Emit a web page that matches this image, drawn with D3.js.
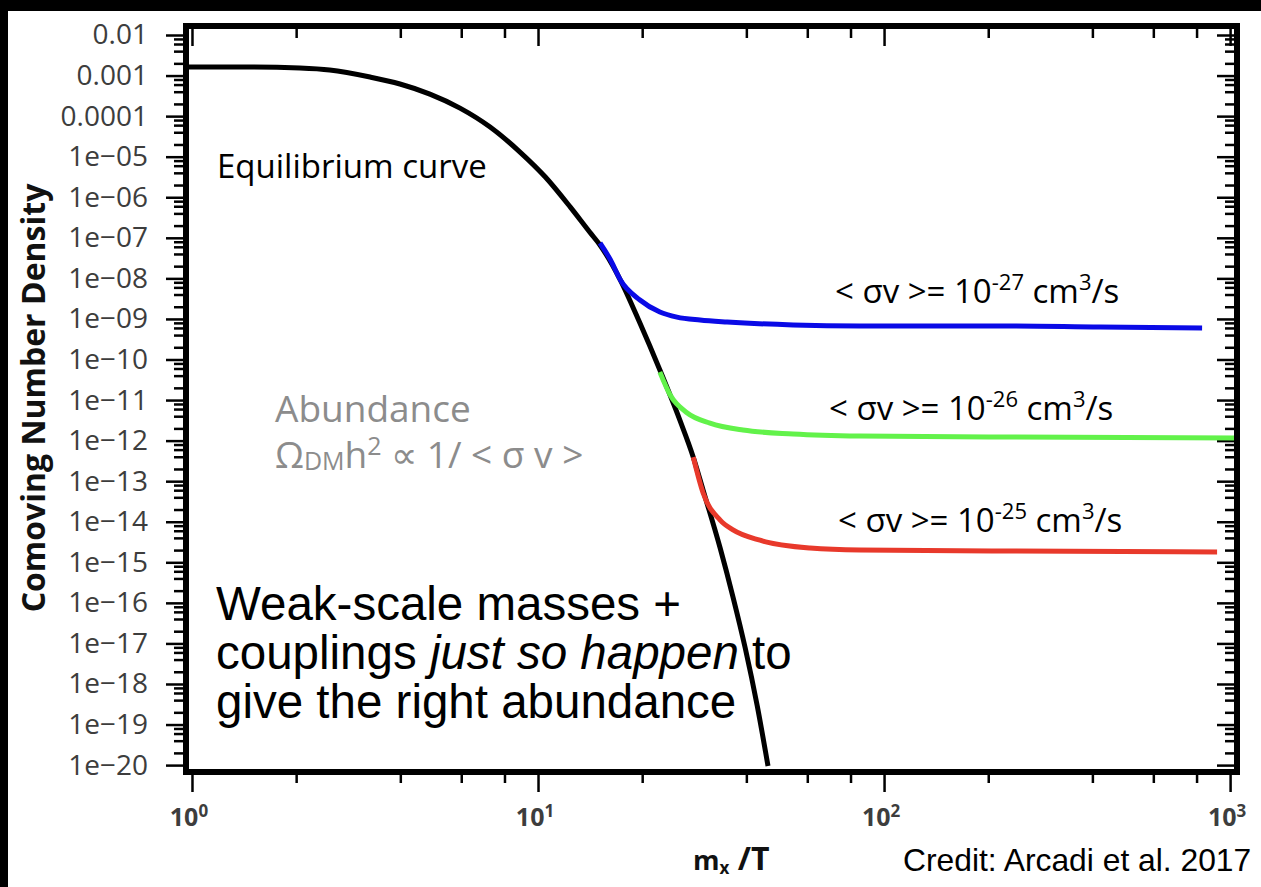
<!DOCTYPE html>
<html>
<head>
<meta charset="utf-8">
<script src="https://cdn.jsdelivr.net/npm/d3@7"></script>
<style>
body { margin: 0; background: #fff; }
text { font-family: "Open Sans", "Noto Sans", sans-serif; }
</style>
</head>
<body>
<svg id="chart" width="1261" height="887"></svg>
<script>
// values (x = m/T, y = comoving number density)
var eqX = [0.961, 1.47, 2.05, 2.5, 3.27, 3.99, 4.87, 5.95, 7.27, 8.87, 10.5, 12.4, 14.1, 15.1, 17.3, 19.7, 22.5, 25.7, 28.1, 30.0, 33.6, 36.6, 39.7, 43.0, 46.2];
var eqY = [1.62e-3, 1.62e-3, 1.53e-3, 1.37e-3, 9.2e-4, 6.2e-4, 3.5e-4, 1.58e-4, 5.4e-5, 1.3e-5, 3.15e-6, 5.7e-7, 1.39e-7, 6.65e-8, 9.1e-9, 7.9e-10, 5.5e-11, 3.2e-12, 3.9e-13, 6.0e-14, 2.25e-15, 1.39e-16, 7.7e-18, 2.9e-19, 9.5e-21];

var sv27X = [15.1, 16.2, 17.3, 19.7, 22.5, 25.2, 29.4, 35.2, 54.6, 85.2, 216, 421, 830];
var sv27Y = [7.45e-8, 2.84e-8, 9.1e-9, 2.93e-9, 1.48e-9, 1.11e-9, 9.4e-10, 8.4e-10, 7.1e-10, 6.7e-10, 6.7e-10, 6.3e-10, 6.0e-10];
var sv26X = [22.5, 24.1, 27.0, 31.4, 39.1, 54.6, 85.2, 216, 1047];
var sv26Y = [4.9e-11, 1.33e-11, 4.8e-12, 2.7e-12, 1.82e-12, 1.46e-12, 1.30e-12, 1.23e-12, 1.16e-12];
var sv25X = [28.1, 30.0, 33.6, 36.6, 43.8, 61.1, 85.2, 216, 917];
var sv25Y = [3.9e-13, 5.1e-14, 1.1e-14, 6.3e-15, 3.5e-15, 2.25e-15, 2.0e-15, 1.9e-15, 1.8e-15];

var svExp = ["-27", "-26", "-25"];

var xMajor = [1, 10, 100, 1000];
var xTickSup = ["0", "1", "2", "3"];
var yMajor = [1e-2, 1e-3, 1e-4, 1e-5, 1e-6, 1e-7, 1e-8, 1e-9, 1e-10, 1e-11, 1e-12, 1e-13, 1e-14, 1e-15, 1e-16, 1e-17, 1e-18, 1e-19, 1e-20];
var yTickLabels = ["0.01", "0.001", "0.0001", "1e\u221205", "1e\u221206", "1e\u221207", "1e\u221208", "1e\u221209", "1e\u221210",
    "1e\u221211", "1e\u221212", "1e\u221213", "1e\u221214", "1e\u221215", "1e\u221216", "1e\u221217", "1e\u221218", "1e\u221219", "1e\u221220"];

// plot frame
var plotL = 186, plotR = 1237, plotT = 26, plotB = 772;

var svg = d3.select("#chart");

// black band at top / left of the screenshot
svg.append("rect").attr("x", 0).attr("y", 0).attr("width", 1261).attr("height", 11).attr("fill", "#000");
svg.append("rect").attr("x", 0).attr("y", 0).attr("width", 8).attr("height", 887).attr("fill", "#000");

var x = d3.scaleLog().domain([0.961, 1047]).range([plotL, plotR]);
var y = d3.scaleLog().domain([Math.pow(10, -1.778), Math.pow(10, -20.17)]).range([plotT, plotB]);

// minor ticks at 2,4,6,8 of each decade
function minors(lo, hi) {
    var out = [];
    for (var e = lo; e < hi; e++) {
        [2, 4, 6, 8].forEach(function (m) { out.push(m * Math.pow(10, e)); });
    }
    return out;
}
var xMinor = minors(0, 3);
var yMinor = minors(-20, -2);

function styleAxis(g) {
    g.select(".domain").remove();
    g.selectAll(".tick line").attr("stroke", "#000").attr("stroke-width", 2.5);
}

// left
svg.append("g").attr("transform", "translate(" + plotL + ",0)")
    .call(d3.axisLeft(y).tickValues(yMinor).tickSize(12).tickFormat(""))
    .call(styleAxis);
svg.append("g").attr("transform", "translate(" + plotL + ",0)")
    .call(d3.axisLeft(y).tickValues(yMajor).tickSize(20).tickPadding(18)
        .tickFormat(function (d, i) { return yTickLabels[i]; }))
    .call(styleAxis)
    .selectAll("text")
    .style("font-size", "28px")
    .style("font-family", "'Open Sans', sans-serif")
    .attr("fill", "#3d3d3d");

// right (inward)
svg.append("g").attr("transform", "translate(" + plotR + ",0)")
    .call(d3.axisRight(y).tickValues(yMinor).tickSize(-12).tickFormat(""))
    .call(styleAxis);
svg.append("g").attr("transform", "translate(" + plotR + ",0)")
    .call(d3.axisRight(y).tickValues(yMajor).tickSize(-20).tickFormat(""))
    .call(styleAxis);

// bottom
svg.append("g").attr("transform", "translate(0," + plotB + ")")
    .call(d3.axisBottom(x).tickValues(xMinor).tickSize(11).tickFormat(""))
    .call(styleAxis);
svg.append("g").attr("transform", "translate(0," + plotB + ")")
    .call(d3.axisBottom(x).tickValues(xMajor).tickSize(20).tickFormat(""))
    .call(styleAxis);

// top (inward)
svg.append("g").attr("transform", "translate(0," + plotT + ")")
    .call(d3.axisTop(x).tickValues(xMinor).tickSize(-12).tickFormat(""))
    .call(styleAxis);
svg.append("g").attr("transform", "translate(0," + plotT + ")")
    .call(d3.axisTop(x).tickValues(xMajor).tickSize(-20).tickFormat(""))
    .call(styleAxis);

// x tick labels 10^n
var xl = svg.append("g").selectAll("text").data(xMajor).enter().append("text")
    .attr("x", function (d) { return x(d) - 3; })
    .attr("y", 826)
    .attr("text-anchor", "middle")
    .attr("fill", "#3d3d3d")
    .style("font-weight", "bold")
    .style("font-size", "25px");
xl.append("tspan").text("10");
xl.append("tspan").attr("dy", -9).style("font-size", "17px")
    .text(function (d, i) { return xTickSup[i]; });

// curves
svg.append("clipPath").attr("id", "clip").append("rect")
    .attr("x", plotL).attr("y", plotT).attr("width", plotR - plotL).attr("height", plotB - plotT);

var line = d3.line()
    .x(function (d) { return x(d[0]); })
    .y(function (d) { return y(d[1]); })
    .curve(d3.curveMonotoneX);

var plot = svg.append("g").attr("clip-path", "url(#clip)");

function addCurve(xs, ys, col) {
    plot.append("path")
        .datum(d3.zip(xs, ys))
        .attr("d", line)
        .attr("fill", "none")
        .attr("stroke", col)
        .attr("stroke-width", 5)
        .attr("stroke-linejoin", "round");
}
addCurve(eqX, eqY, "#000");
addCurve(sv27X, sv27Y, "#0a0ae6");
addCurve(sv26X, sv26Y, "#62f24a");
addCurve(sv25X, sv25Y, "#e8392b");

// frame
svg.append("rect")
    .attr("x", plotL).attr("y", plotT)
    .attr("width", plotR - plotL).attr("height", plotB - plotT)
    .attr("fill", "none").attr("stroke", "#000").attr("stroke-width", 6);

// axis titles
svg.append("text")
    .attr("transform", "translate(45,398) rotate(-90)")
    .attr("text-anchor", "middle")
    .style("font-weight", "bold")
    .style("font-size", "32px")
    .attr("fill", "#111")
    .text("Comoving Number Density");

var xt = svg.append("text").attr("x", 693).attr("y", 870)
    .style("font-weight", "bold").style("font-size", "27px").attr("fill", "#111");
xt.append("tspan").text("m");
xt.append("tspan").attr("dy", 4).style("font-size", "17px").text("x");
xt.append("tspan").attr("dy", -4).style("font-size", "32px").text(" /T");

svg.append("text").attr("x", 903).attr("y", 871)
    .style("font-family", "'Liberation Sans', Arial, sans-serif")
    .style("font-size", "31.8px")
    .text("Credit: Arcadi et al. 2017");

// annotations
svg.append("text").attr("x", 217).attr("y", 178)
    .style("font-size", "33px")
    .text("Equilibrium curve");

svg.append("text").attr("x", 275).attr("y", 422)
    .style("font-size", "37px").attr("fill", "#8c8c8c")
    .text("Abundance");
var om = svg.append("text").attr("x", 275).attr("y", 468)
    .style("font-size", "37px").attr("fill", "#8c8c8c");
om.append("tspan").text("\u03A9");
om.append("tspan").attr("dy", 2).style("font-size", "25px").text("DM");
om.append("tspan").attr("dy", -2).text("h");
om.append("tspan").attr("dy", -13).style("font-size", "25px").text("2");
om.append("tspan").attr("dy", 13).text(" \u221D 1/ < \u03C3 v >");

var svPos = [[835, 303], [829, 420], [838, 532]];
svExp.forEach(function (e, i) {
    var t = svg.append("text").attr("x", svPos[i][0]).attr("y", svPos[i][1])
        .style("font-size", "33px");
    t.append("tspan").text("< \u03C3v >= 10");
    t.append("tspan").attr("dy", -13).style("font-size", "22px").text(e);
    t.append("tspan").attr("dy", 13).text(" cm");
    t.append("tspan").attr("dy", -13).style("font-size", "22px").text("3");
    t.append("tspan").attr("dy", 13).text("/s");
});

function bigText(yy) {
    return svg.append("text").attr("x", 216).attr("y", yy)
        .style("font-family", "'Liberation Sans', Arial, sans-serif")
        .style("font-size", "47.5px");
}
bigText(620).text("Weak-scale masses +");
var l2 = bigText(669);
l2.append("tspan").text("couplings ");
l2.append("tspan").style("font-style", "italic").text("just so happen");
l2.append("tspan").text(" to");
bigText(718).text("give the right abundance");
</script>
</body>
</html>
